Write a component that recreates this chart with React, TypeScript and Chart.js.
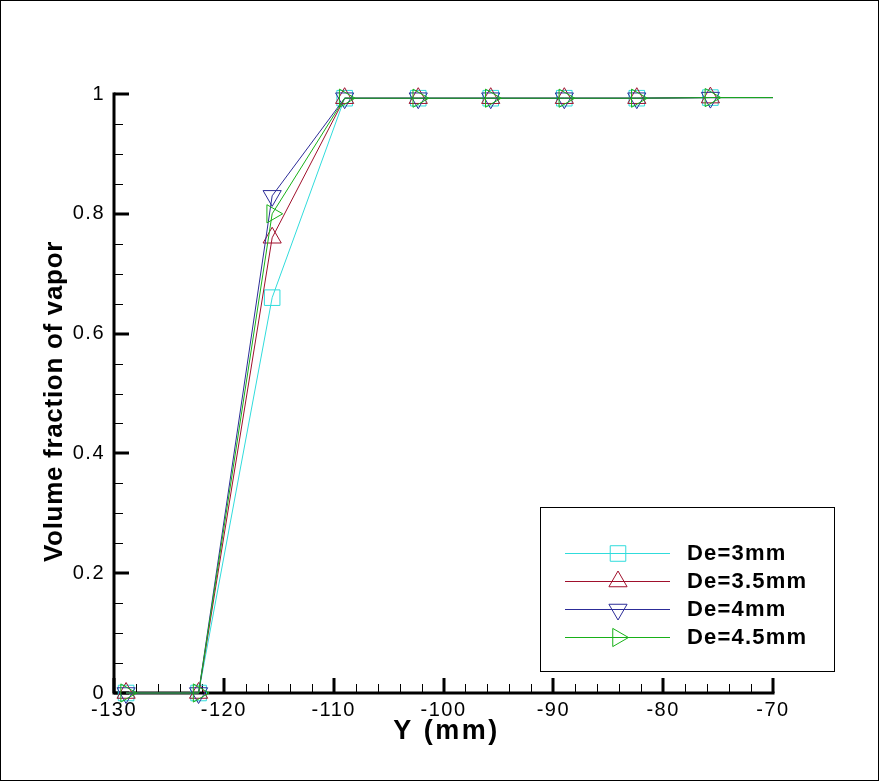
import React, { useEffect, useRef } from "react";
import { Chart, registerables } from "chart.js";
import { drawPoint } from "chart.js/helpers";

Chart.register(...registerables);

// ---- data ----
const xValues = [-128.9, -122.3, -115.6, -109.0, -102.3, -95.7, -89.0, -82.4, -75.7, -70.0];
const markerShown = [1, 1, 1, 1, 1, 1, 1, 1, 1, 0];
const de3 = [0, 0, 0.66, 0.993, 0.993, 0.993, 0.993, 0.993, 0.994, 0.994];
const de35 = [0, 0, 0.76, 0.993, 0.993, 0.993, 0.993, 0.993, 0.994, 0.994];
const de4 = [0, 0, 0.83, 0.993, 0.993, 0.993, 0.993, 0.993, 0.994, 0.994];
const de45 = [0, 0, 0.8, 0.993, 0.993, 0.993, 0.993, 0.993, 0.994, 0.994];
const seriesNames = ["De=3mm", "De=3.5mm", "De=4mm", "De=4.5mm"];
const xTitle = "Y (mm)";
const yTitle = "Volume fraction of vapor";

const colors = ["#30dcdc", "#a0102c", "#2c2c98", "#18b018"];
const styles = [
  { pointStyle: "rect", rotation: 0, radius: 11 },
  { pointStyle: "triangle", rotation: 0, radius: 10.5 },
  { pointStyle: "triangle", rotation: 180, radius: 10.5 },
  { pointStyle: "triangle", rotation: 90, radius: 10.5 },
];

const allSeries = [de3, de35, de4, de45];

const axesPlugin = {
  id: "tecAxes",
  beforeDatasetsDraw(chart: any) {
    const ctx = chart.ctx;
    const xs = chart.scales.x;
    const ys = chart.scales.y;
    const left = xs.left;
    const right = xs.right;
    const top = ys.top;
    const bottom = ys.bottom;
    ctx.save();
    ctx.strokeStyle = "#000";
    ctx.lineWidth = 1;
    ctx.beginPath();
    for (let v = -130; v <= -70 + 1e-9; v += 2) {
      const px = Math.round(xs.getPixelForValue(v)) + 0.5;
      ctx.moveTo(px, bottom);
      ctx.lineTo(px, bottom - 9);
    }
    for (let i = 0; i <= 20; i++) {
      const py = Math.round(ys.getPixelForValue(i * 0.05)) + 0.5;
      ctx.moveTo(left, py);
      ctx.lineTo(left + 9, py);
    }
    ctx.stroke();
    ctx.lineWidth = 3;
    ctx.beginPath();
    xs.ticks.forEach((t: any) => {
      const px = Math.round(xs.getPixelForValue(t.value));
      ctx.moveTo(px, bottom);
      ctx.lineTo(px, bottom - 15);
    });
    ys.ticks.forEach((t: any) => {
      const py = Math.round(ys.getPixelForValue(t.value));
      ctx.moveTo(left, py);
      ctx.lineTo(left + 15, py);
    });
    ctx.stroke();
    ctx.beginPath();
    ctx.moveTo(left, top - 1.5);
    ctx.lineTo(left, bottom);
    ctx.lineTo(right + 1.5, bottom);
    ctx.stroke();
    ctx.restore();
  },
  afterDraw(chart: any) {
    const ctx = chart.ctx;
    const xs = chart.scales.x;
    const ys = chart.scales.y;
    ctx.save();
    ctx.strokeStyle = "#000";
    ctx.lineWidth = 1;
    ctx.strokeRect(0.5, 0.5, chart.width - 1, chart.height - 1);
    ctx.fillStyle = "#000";
    ctx.font = "bold 27px 'Liberation Sans', Arial, sans-serif";
    (ctx as any).letterSpacing = "2.5px";
    ctx.textAlign = "center";
    ctx.textBaseline = "alphabetic";
    ctx.fillText(xTitle, (xs.left + xs.right) / 2 + 3, 739);
    ctx.save();
    ctx.translate(62, (ys.top + ys.bottom) / 2 + 8);
    ctx.rotate(-Math.PI / 2);
    ctx.font = "bold 26px 'Liberation Sans', Arial, sans-serif";
    (ctx as any).letterSpacing = "0.7px";
    ctx.fillText(yTitle, 0, 0);
    ctx.restore();
    ctx.lineWidth = 1;
    ctx.strokeStyle = "#000";
    ctx.strokeRect(540.5, 507.5, 294, 164);
    const rows = [553, 581, 609, 637];
    ctx.font = "bold 22px 'Liberation Sans', Arial, sans-serif";
    (ctx as any).letterSpacing = "1.2px";
    ctx.textAlign = "left";
    ctx.textBaseline = "middle";
    seriesNames.forEach((name, i) => {
      const y = rows[i] + 0.5;
      ctx.strokeStyle = colors[i];
      ctx.lineWidth = 1;
      ctx.beginPath();
      ctx.moveTo(565, y);
      ctx.lineTo(670, y);
      ctx.stroke();
      ctx.fillStyle = "rgba(0,0,0,0)";
      drawPoint(ctx, { ...styles[i], borderWidth: 1 } as any, 618, y);
      ctx.fillStyle = "#000";
      ctx.fillText(name, 687, rows[i] + 1);
    });
    ctx.restore();
  },
};

export default function App() {
  const ref = useRef<HTMLCanvasElement>(null);
  useEffect(() => {
    document.body.style.margin = "0";
    const canvas = ref.current!;
    const datasets = allSeries.map((vals, i) => ({
      label: seriesNames[i],
      data: xValues.map((x, j) => ({ x, y: vals[j] })),
      borderColor: colors[i],
      borderWidth: 1,
      backgroundColor: "rgba(0,0,0,0)",
      pointBorderColor: colors[i],
      pointBackgroundColor: "rgba(0,0,0,0)",
      pointBorderWidth: 1,
      pointStyle: styles[i].pointStyle,
      pointRotation: styles[i].rotation,
      pointRadius: markerShown.map((m) => (m ? styles[i].radius : 0)),
      pointHoverRadius: markerShown.map((m) => (m ? styles[i].radius : 0)),
      tension: 0,
      fill: false,
      clip: false as any,
      order: 3 - i,
    }));
    const tickFont = { family: "'Liberation Sans', Arial, sans-serif", size: 20 };
    const chart = new Chart(canvas, {
      type: "line",
      data: { datasets },
      options: {
        responsive: false,
        animation: false,
        layout: { padding: { top: 94, right: 106, bottom: 0, left: 0 } },
        plugins: { legend: { display: false }, tooltip: { enabled: false } },
        scales: {
          x: {
            type: "linear",
            min: -130,
            max: -70,
            grid: { display: false, drawTicks: false },
            border: { display: false },
            ticks: {
              stepSize: 10,
              font: tickFont,
              color: "#000",
              padding: 5,
              maxRotation: 0,
              callback: (v: any) => String(v),
            },
            afterFit: (s: any) => {
              s.height = 88;
            },
          },
          y: {
            type: "linear",
            min: 0,
            max: 1,
            grid: { display: false, drawTicks: false },
            border: { display: false },
            ticks: {
              stepSize: 0.2,
              font: tickFont,
              color: "#000",
              padding: 9,
              callback: (v: any) => String(Math.round(v * 10) / 10),
            },
            afterFit: (s: any) => {
              s.width = 114;
            },
          },
        },
      },
      plugins: [
        axesPlugin,
        {
          id: "spacing",
          beforeDraw(c: any) {
            (c.ctx as any).letterSpacing = "1.5px";
          },
        },
      ],
    });
    return () => chart.destroy();
  }, []);
  return (
    <div style={{ width: 879, height: 781, background: "#fff" }}>
      <canvas ref={ref} width={879} height={781} style={{ display: "block", width: 879, height: 781 }} />
    </div>
  );
}
